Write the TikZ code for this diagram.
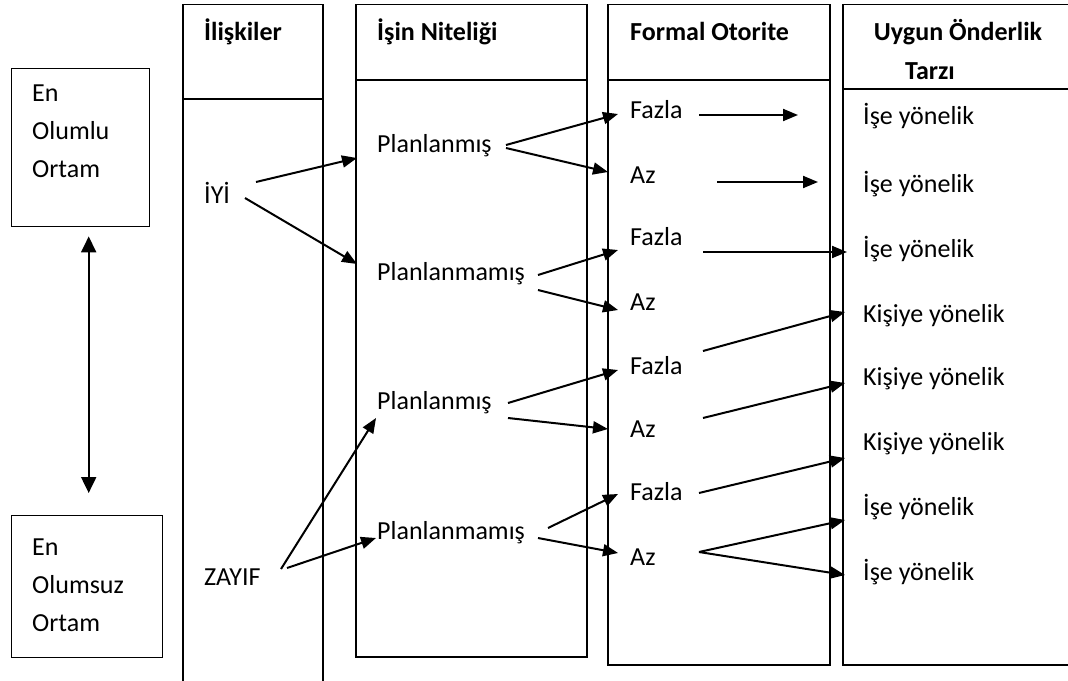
\documentclass[tikz,border=0pt]{standalone}
\usepackage{fontspec}
\setmainfont{Carlito}
\usetikzlibrary{arrows.meta}

\begin{document}
\begin{tikzpicture}[x=1pt,y=-1pt,
    cizgi/.style={line width=1.4pt},
    ok/.style={line width=2pt,-{Triangle[length=15pt,width=12pt]}},
    yazi/.style={anchor=west,inner sep=0pt,text height=18pt,text depth=4pt,font=\fontsize{26}{38}\selectfont},
    baslik/.style={yazi,font=\fontsize{26}{39}\selectfont\bfseries},
    kutuyazi/.style={anchor=west,inner sep=0pt,align=left,font=\fontsize{26}{38}\selectfont}]
    \useasboundingbox (0,0) rectangle (1068,680);
    % sol kutular
    \node[draw,cizgi,anchor=north west,minimum width=138pt,minimum height=158pt] (ustkutu) at (11,68) {};
    \node[draw,cizgi,anchor=north west,minimum width=151pt,minimum height=142pt] (altkutu) at (11,515) {};
    \node[kutuyazi] (olumlu) at (32,131.5) {En\\Olumlu\\Ortam};
    \node[kutuyazi] (olumsuz) at (32,585) {En\\Olumsuz\\Ortam};
    \draw[line width=2pt,{Triangle[length=16pt,width=15pt]}-{Triangle[length=16pt,width=15pt]}]
        ([shift={(8,9)}]ustkutu.south) -- ([shift={(1.5,-22)}]altkutu.north);
    % sutunlar
    \draw[cizgi] (183,690) -- (183,4.5) -- (323,4.5) -- (323,690);
    \draw[cizgi] (183,99) -- (323,99);
    \draw[cizgi] (356,4.5) rectangle (587,657);
    \draw[cizgi] (356,80) -- (587,80);
    \draw[cizgi] (608,4.5) rectangle (830,665);
    \draw[cizgi] (608,80) -- (830,80);
    \draw[cizgi] (843,4.5) rectangle (1090,665);
    \draw[cizgi] (843,89) -- (1090,89);
    % basliklar
    \node[baslik] (b1) at (204,33) {İlişkiler};
    \node[baslik] (b2) at (377,33) {İşin Niteliği};
    \node[baslik] (b3) at (630,33) {Formal Otorite};
    \node[baslik,anchor=center] (b4) at (958,33) {Uygun Önderlik};
    \node[baslik,anchor=center] (b5) at (930,72) {Tarzı};
    % iliskiler
    \node[yazi] (iyi) at (204,196) {İYİ};
    \node[yazi] (zayif) at (204,578) {ZAYIF};
    % isin niteligi
    \node[yazi] (pl1) at (377,145) {Planlanmış};
    \node[yazi] (plm1) at (377,273) {Planlanmamış};
    \node[yazi] (pl2) at (377,402) {Planlanmış};
    \node[yazi] (plm2) at (377,532) {Planlanmamış};
    % formal otorite
    \node[yazi] (fz1) at (630,111) {Fazla};
    \node[yazi] (az1) at (630,176) {Az};
    \node[yazi] (fz2) at (630,238) {Fazla};
    \node[yazi] (az2) at (630,303) {Az};
    \node[yazi] (fz3) at (630,367) {Fazla};
    \node[yazi] (az3) at (630,430) {Az};
    \node[yazi] (fz4) at (630,493) {Fazla};
    \node[yazi] (az4) at (630,558) {Az};
    % onderlik tarzi
    \node[yazi] (s1) at (863,117) {İşe yönelik};
    \node[yazi] (s2) at (863,185) {İşe yönelik};
    \node[yazi] (s3) at (863,250) {İşe yönelik};
    \node[yazi] (s4) at (863,315) {Kişiye yönelik};
    \node[yazi] (s5) at (863,378) {Kişiye yönelik};
    \node[yazi] (s6) at (863,443) {Kişiye yönelik};
    \node[yazi] (s7) at (863,508) {İşe yönelik};
    \node[yazi] (s8) at (863,573) {İşe yönelik};
    % oklar
    \draw[ok] ([shift={(52,-14)}]iyi.west) -- ([shift={(-20,13)}]pl1.west);
    \draw[ok] ([shift={(41,2)}]iyi.west) -- ([shift={(-20,-9)}]plm1.west);
    \draw[ok] ([shift={(77,-9)}]zayif.west) -- ([shift={(-1,16)}]pl2.west);
    \draw[ok] ([shift={(83,-10)}]zayif.west) -- ([shift={(-1,6)}]plm2.west);
    \draw[ok] ([shift={(129,0)}]pl1.west) -- ([shift={(-12,3)}]fz1.west);
    \draw[ok] ([shift={(129,3)}]pl1.west) -- ([shift={(-22,-4)}]az1.west);
    \draw[ok] ([shift={(161,2)}]plm1.west) -- ([shift={(-12,12)}]fz2.west);
    \draw[ok] ([shift={(161,17)}]plm1.west) -- ([shift={(-12,7)}]az2.west);
    \draw[ok] ([shift={(131,1)}]pl2.west) -- ([shift={(-12,3)}]fz3.west);
    \draw[ok] ([shift={(131,16)}]pl2.west) -- ([shift={(-22,-1)}]az3.west);
    \draw[ok] ([shift={(171,-4)}]plm2.west) -- ([shift={(-12,1)}]fz4.west);
    \draw[ok] ([shift={(161,6)}]plm2.west) -- ([shift={(-12,-5)}]az4.west);
    \draw[ok] ([shift={(69,4)}]fz1.west) -- ([shift={(-65,-2)}]s1.west);
    \draw[ok] ([shift={(87,6)}]az1.west) -- ([shift={(-45,-3)}]s2.west);
    \draw[ok] ([shift={(73,14)}]fz2.west) -- ([shift={(-16,2)}]s3.west);
    \draw[ok] ([shift={(73,-16)}]fz3.west) -- ([shift={(-18,-3)}]s4.west);
    \draw[ok] ([shift={(73,-12)}]az3.west) -- ([shift={(-18,5)}]s5.west);
    \draw[ok] ([shift={(69,0)}]fz4.west) -- ([shift={(-18,15)}]s6.west);
    \draw[ok] ([shift={(69,-6)}]az4.west) -- ([shift={(-18,12)}]s7.west);
    \draw[ok] ([shift={(69,-6)}]az4.west) -- ([shift={(-18,2)}]s8.west);
\end{tikzpicture}
\end{document}
